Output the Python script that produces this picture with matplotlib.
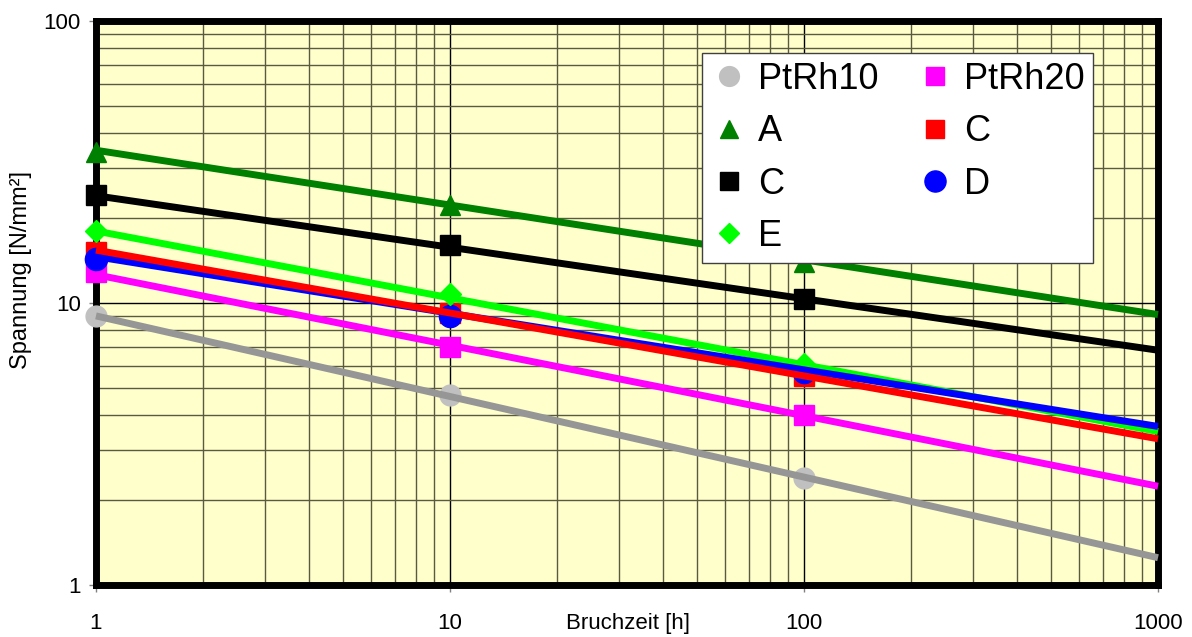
import matplotlib.pyplot as plt
from matplotlib.ticker import LogLocator, NullFormatter, FixedLocator, FixedFormatter

plt.rcParams['font.family'] = ['Liberation Sans', 'DejaVu Sans']

# Messpunkte (Bruchzeit in h)
zeiten = [1, 10, 100]
namen = ['PtRh10', 'PtRh20', 'A', 'C', 'C', 'D', 'E']
werte = {
    0: [9.0, 4.7, 2.4],
    1: [12.9, 7.0, 4.0],
    2: [34.3, 22.3, 14.0],
    3: [24.1, 16.1, 10.3],
    4: [15.2, 9.2, 5.5],
    5: [14.3, 9.0, 5.7],
    6: [18.0, 10.8, 6.1],
}
trend_x = [1, 1000]
trend = {
    0: [9.0, 1.25],
    1: [12.6, 2.24],
    2: [34.8, 9.1],
    3: [24.0, 6.8],
    4: [15.4, 3.3],
    5: [14.6, 3.65],
    6: [18.0, 3.5],
}

marker_farben = ['#C0C0C0', '#FF00FF', '#008000', '#000000', '#FF0000', '#0000FF', '#00FF00']
linien_farben = ['#969696', '#FF00FF', '#008000', '#000000', '#FF0000', '#0000FF', '#00FF00']
marker = ['o', 's', '^', 's', 's', 'o', 'D']
msize = [15, 14, 14, 14, 14, 16, 11]
# Zeichenreihenfolge der Trendlinien (unten -> oben)
linien_reihenfolge = [0, 1, 2, 3, 6, 5, 4]

fig = plt.figure(figsize=(11.92, 6.37), dpi=100)
ax = fig.add_axes([0.0805, 0.0816, 0.891, 0.8855])
ax.set_facecolor('#FFFFCC')
ax.set_xscale('log')
ax.set_yscale('log')
ax.set_xlim(1, 1000)
ax.set_ylim(1, 100)

handles = []
for i in range(len(namen)):
    h, = ax.plot(zeiten, werte[i], ls='none', marker=marker[i], ms=msize[i],
                 color=marker_farben[i], mec=marker_farben[i], zorder=21,
                 clip_on=False, label=namen[i])
    handles.append(h)

for z, i in enumerate(linien_reihenfolge):
    ax.plot(trend_x, trend[i], color=linien_farben[i], lw=5, zorder=22 + z,
            solid_capstyle='butt', clip_on=False)

ax.xaxis.set_minor_locator(LogLocator(base=10, subs=range(2, 10)))
ax.yaxis.set_minor_locator(LogLocator(base=10, subs=range(2, 10)))
ax.xaxis.set_minor_formatter(NullFormatter())
ax.yaxis.set_minor_formatter(NullFormatter())
ax.xaxis.set_major_locator(FixedLocator([1, 10, 100, 1000]))
ax.xaxis.set_major_formatter(FixedFormatter(['1', '10', '100', '1000']))
ax.yaxis.set_major_locator(FixedLocator([1, 10, 100]))
ax.yaxis.set_major_formatter(FixedFormatter(['1', '10', '100']))

ax.grid(True, which='major', color='#000000', lw=1.0, zorder=1)
ax.grid(True, which='minor', color='#5a5a40', lw=1.0, zorder=1)
ax.set_axisbelow(True)

ax.tick_params(which='minor', length=0)
ax.tick_params(axis='x', which='major', length=5, width=1, color='#808080',
               labelsize=16, pad=15)
ax.tick_params(axis='y', which='major', length=5, width=1, color='#808080',
               labelsize=16, pad=6)

for s in ax.spines.values():
    s.set_linewidth(5)
    s.set_color('black')
    s.set_zorder(20)

fig.text(628 / 1192, 1 - 624 / 637, 'Bruchzeit [h]', fontsize=16,
         ha='center', va='center')
fig.text(21 / 1192, 1 - 270 / 637, 'Spannung [N/mm²]', fontsize=17,
         ha='center', va='center', rotation=90)

# Legende zeilenweise wie im Original
reihenfolge = [0, 2, 3, 6, 1, 4, 5]
leg = ax.legend([handles[i] for i in reihenfolge], [namen[i] for i in reihenfolge],
                ncol=2, loc='upper left', bbox_to_anchor=(0.571, 0.943),
                borderaxespad=0, fontsize=26, frameon=True, fancybox=False,
                framealpha=1, edgecolor='#404040', handlelength=1.0,
                handletextpad=0.3, columnspacing=1.05, labelspacing=0.48,
                borderpad=0.25, markerscale=0.95)
leg.get_frame().set_linewidth(1.0)
leg.set_zorder(40)

fig.savefig('out.png', dpi=100, facecolor='white')
